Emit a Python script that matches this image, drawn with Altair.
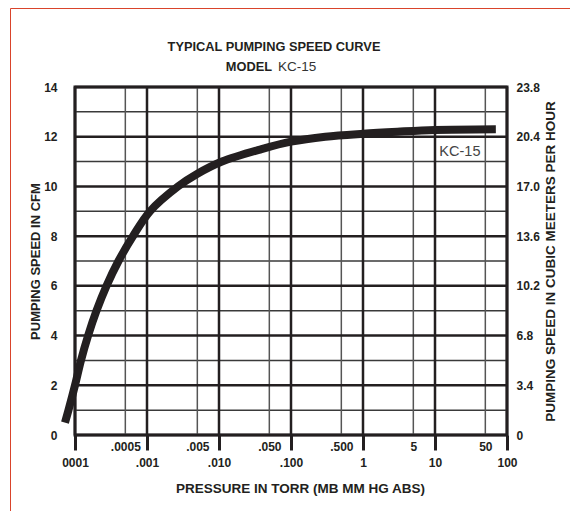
import altair as alt
import pandas as pd

# ---- data ----
pressure = [0.0000726, 0.0000812, 0.0001, 0.000121, 0.000152, 0.000199, 0.000274,
            0.000402, 0.000639, 0.0011, 0.0027, 0.00495, 0.011, 0.039, 0.1, 0.3,
            1, 3, 10, 70]
speed_cfm = [0.5, 1.0, 2.0, 3.0, 4.0, 5.0, 6.0, 7.0, 8.0, 9.0, 10.0, 10.5, 11.0,
             11.5, 11.8, 12.0, 12.12, 12.2, 12.27, 12.3]

decades = [0.0001, 0.001, 0.01, 0.1, 1, 10, 100]
decade_labels = ["0001", ".001", ".010", ".100", "1", "10", "100"]
halfs = [0.0005, 0.005, 0.05, 0.5, 5, 50]
half_labels = [".0005", ".005", ".050", ".500", "5", "50"]
y_major = [0, 2, 4, 6, 8, 10, 12, 14]
y_minor = [1, 3, 5, 7, 9, 11, 13]
y_right_labels = ["0", "3.4", "6.8", "10.2", "13.6", "17.0", "20.4", "23.8"]

FONT = "Liberation Sans"
INK = "#231f20"


def expr_map(vals, labels, rel=True):
    e = "''"
    for v, l in reversed(list(zip(vals, labels))):
        if rel:
            cond = f"abs(datum.value/{v}-1) < 0.01"
        else:
            cond = f"abs(datum.value-{v}) < 0.01"
        e = f"{cond} ? '{l}' : ({e})"
    return e


xscale = alt.Scale(type="log", domain=[0.0001, 100], nice=False)
yscale = alt.Scale(domain=[0, 14], nice=False, zero=True)

curve_df = pd.DataFrame({"p": pressure, "s": speed_cfm})

border = alt.Chart(alt.Data(values=[{}])).mark_rect(
    fillOpacity=0, stroke="#d9442b", strokeWidth=1
).encode(x=alt.value(-64.5), y=alt.value(-78.5), x2=alt.value(700), y2=alt.value(700))

minor_h = alt.Chart(pd.DataFrame({"y": y_minor})).mark_rule(
    color="#3a3a3a", strokeWidth=1.5
).encode(
    y=alt.Y("y:Q", scale=yscale, axis=alt.Axis(
        orient="right", values=y_major, labelExpr=expr_map(y_major, y_right_labels, rel=False),
        ticks=False, domain=False, grid=False, labelPadding=9, labelFont=FONT,
        labelFontSize=12, labelFontWeight="bold", labelColor=INK,
        title="PUMPING SPEED IN CUBIC MEETERS PER HOUR", titleFont=FONT, titleFontSize=13.5,
        titleFontWeight="bold", titleColor=INK, titleAngle=270, titleBaseline="top",
        titlePadding=4))
)

minor_v = alt.Chart(pd.DataFrame({"x": halfs})).mark_rule(
    color="#555555", strokeWidth=1.5
).encode(
    x=alt.X("x:Q", scale=xscale, axis=alt.Axis(
        orient="bottom", values=halfs, labelExpr=expr_map(halfs, half_labels), ticks=False,
        domain=False, grid=False, labelPadding=6, labelFont=FONT, labelFontSize=12,
        labelFontWeight="bold", labelColor=INK, title=None, labelBaseline="top",
        labelFlush=False, labelOverlap=False))
)

major_h = alt.Chart(pd.DataFrame({"y": y_major})).mark_rule(
    color=INK, strokeWidth=2.5
).encode(
    y=alt.Y("y:Q", scale=yscale, axis=alt.Axis(
        orient="left", values=y_major, ticks=False, domain=False, grid=False,
        labelPadding=18, labelFont=FONT, labelFontSize=12, labelFontWeight="bold",
        labelColor=INK, title="PUMPING SPEED IN CFM", titleFont=FONT, titleFontSize=13,
        titleFontWeight="bold", titleColor=INK, titlePadding=1))
)

major_v = alt.Chart(pd.DataFrame({"x": decades})).mark_rule(
    color=INK, strokeWidth=2.5
).encode(
    x=alt.X("x:Q", scale=xscale, axis=alt.Axis(
        orient="bottom", values=decades, labelExpr=expr_map(decades, decade_labels),
        ticks=True, tickSize=15, tickWidth=3, tickColor=INK, domain=False, grid=False,
        labelPadding=7, labelFont=FONT, labelFontSize=12, labelFontWeight="bold",
        labelColor=INK, labelBaseline="top", labelFlush=False, labelOverlap=False,
        title="PRESSURE IN TORR (MB MM HG ABS)", titleFont=FONT, titleFontSize=13.5,
        titleFontWeight="bold", titleColor=INK, titleX=225, titleY=53,
        titleBaseline="middle", titleAnchor="middle"))
)

curve = alt.Chart(curve_df).mark_line(
    color=INK, strokeWidth=8, strokeCap="butt", interpolate="catmull-rom", clip=False
).encode(
    x=alt.X("p:Q", scale=xscale, axis=None),
    y=alt.Y("s:Q", scale=yscale, axis=None),
)

curve_label = alt.Chart(pd.DataFrame({"p": [11.5], "s": [11.4], "t": ["KC-15"]})).mark_text(
    align="left", baseline="middle", font=FONT, fontSize=14.5, color="#444444"
).encode(
    x=alt.X("p:Q", scale=xscale, axis=None),
    y=alt.Y("s:Q", scale=yscale, axis=None),
    text="t:N",
)

title1 = alt.Chart(alt.Data(values=[{}])).mark_text(
    text="TYPICAL PUMPING SPEED CURVE", font=FONT, fontSize=12.8, fontWeight="bold",
    color=INK, align="center", baseline="middle"
).encode(x=alt.value(199), y=alt.value(-40))

title2a = alt.Chart(alt.Data(values=[{}])).mark_text(
    text="MODEL", font=FONT, fontSize=12.8, fontWeight="bold",
    color=INK, align="right", baseline="middle"
).encode(x=alt.value(197), y=alt.value(-20))

title2b = alt.Chart(alt.Data(values=[{}])).mark_text(
    text="KC-15", font=FONT, fontSize=13.5, fontWeight="normal",
    color="#333333", align="left", baseline="middle"
).encode(x=alt.value(203), y=alt.value(-20))

chart = alt.layer(
    border, minor_h, minor_v, major_h, major_v, curve, curve_label, title1, title2a, title2b
).resolve_axis(x="independent", y="independent").properties(
    width=432, height=348,
    autosize=alt.AutoSizeParams(type="none"),
    padding={"left": 67, "top": 79, "right": 63, "bottom": 76},
    background="white",
).configure_view(stroke=INK, strokeWidth=3)

chart.save("out.html", embed_options={"renderer": "svg", "actions": False})
